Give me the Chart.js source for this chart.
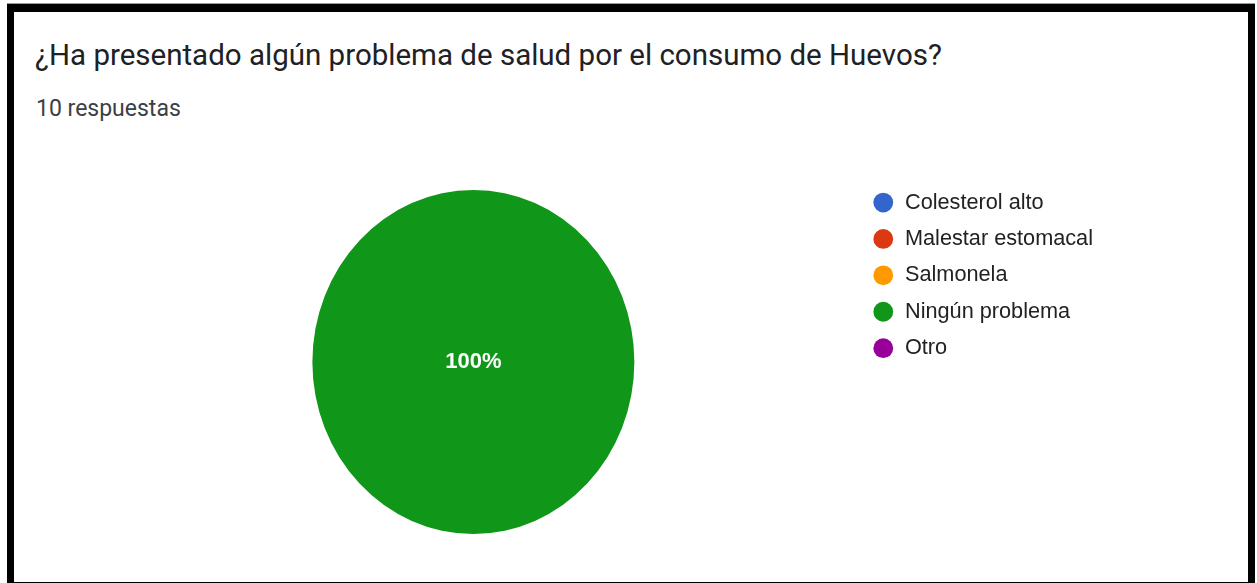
<!DOCTYPE html>
<html lang="es">
<head>
<meta charset="utf-8">
<title>Problemas de salud por el consumo de huevos</title>
<script src="https://cdn.jsdelivr.net/npm/chart.js@4.4.1/dist/chart.umd.min.js"></script>
<style>
  body {
    margin: 0;
    background: #fff;
    width: 1257px;
    height: 583px;
    overflow: hidden;
    position: relative;
  }
  .marco {
    position: absolute;
    left: 7px;
    top: 4px;
    width: 1234px;
    height: 570px;
    border-style: solid;
    border-color: #000;
    border-width: 8px 7px 8px 7px;
    box-shadow: 0 -1px 0 #9a9a9a;
  }
  .titulo {
    position: absolute;
    left: 35px;
    top: 41px;
    font-family: Roboto, "Noto Sans", sans-serif;
    font-size: 29.5px;
    line-height: 1;
    color: #202124;
    white-space: nowrap;
  }
  .subtitulo {
    position: absolute;
    left: 36px;
    top: 97px;
    font-family: Roboto, "Noto Sans", sans-serif;
    font-size: 23px;
    line-height: 1;
    color: #3c4043;
    white-space: nowrap;
  }
  .grafico {
    position: absolute;
    left: 14px;
    top: 150px;
    width: 1234px;
    height: 420px;
  }
</style>
</head>
<body>
<div class="marco"></div>
<div class="titulo">¿Ha presentado algún problema de salud por el consumo de Huevos?</div>
<div class="subtitulo">10 respuestas</div>
<div class="grafico"><canvas id="graficoSalud"></canvas></div>

<script>
// respuestas de la encuesta
const categorias = ["Colesterol alto", "Malestar estomacal", "Salmonela", "Ningún problema", "Otro"];
const respuestas = [0, 0, 0, 10, 0];
const colores = ["#3366cc", "#dc3912", "#ff9900", "#109618", "#990099"];

// el pastel sale un poco achatado de lado
const escalaX = 0.936;

function totalDe(lista) {
  let suma = 0;
  lista.forEach((v) => { suma += v; });
  return suma;
}

const pastelOvalado = {
  id: "pastelOvalado",
  beforeDatasetsDraw(chart) {
    const arco = chart.getDatasetMeta(0).data[0];
    const ctx = chart.ctx;
    ctx.save();
    ctx.translate(arco.x, arco.y);
    ctx.scale(escalaX, 1);
    ctx.translate(-arco.x, -arco.y);
  },
  afterDatasetsDraw(chart) {
    chart.ctx.restore();
  }
};

// porcentaje dentro de cada porción
const etiquetasPorcentaje = {
  id: "etiquetasPorcentaje",
  afterDatasetsDraw(chart) {
    const ctx = chart.ctx;
    const datos = chart.data.datasets[0].data;
    const total = totalDe(datos);
    const meta = chart.getDatasetMeta(0);
    ctx.save();
    ctx.fillStyle = "#ffffff";
    ctx.font = "bold 22px 'Liberation Sans', Arial, sans-serif";
    ctx.textAlign = "center";
    ctx.textBaseline = "middle";
    meta.data.forEach((arco, i) => {
      if (!datos[i]) return;
      const texto = Math.round(datos[i] / total * 100) + "%";
      let px = arco.x;
      let py = arco.y;
      if (arco.circumference < Math.PI * 2 - 0.001) {
        const pos = arco.tooltipPosition();
        px = arco.x + (pos.x - arco.x) * escalaX;
        py = pos.y;
      }
      ctx.fillText(texto, px, py);
    });
    ctx.restore();
  }
};

var ctx = document.getElementById("graficoSalud").getContext("2d");
var graficoSalud = new Chart(ctx, {
  type: "pie",
  data: {
    labels: categorias,
    datasets: [
      {
        data: respuestas,
        backgroundColor: colores,
        borderWidth: 0,
        radius: 172,
      },
    ],
  },
  options: {
    responsive: true,
    maintainAspectRatio: false,
    animation: false,
    layout: {
      padding: { left: 75, right: 145, top: 27, bottom: 23 },
    },
    plugins: {
      tooltip: { enabled: false },
      legend: {
        position: "right",
        align: "start",
        labels: {
          usePointStyle: true,
          pointStyle: "circle",
          boxWidth: 22,
          boxHeight: 14,
          padding: 14.7,
          color: "#222222",
          font: { family: "'Liberation Sans', Arial, sans-serif", size: 21.7 },
        },
      },
    },
  },
  plugins: [pastelOvalado, etiquetasPorcentaje],
});
</script>
</body>
</html>
